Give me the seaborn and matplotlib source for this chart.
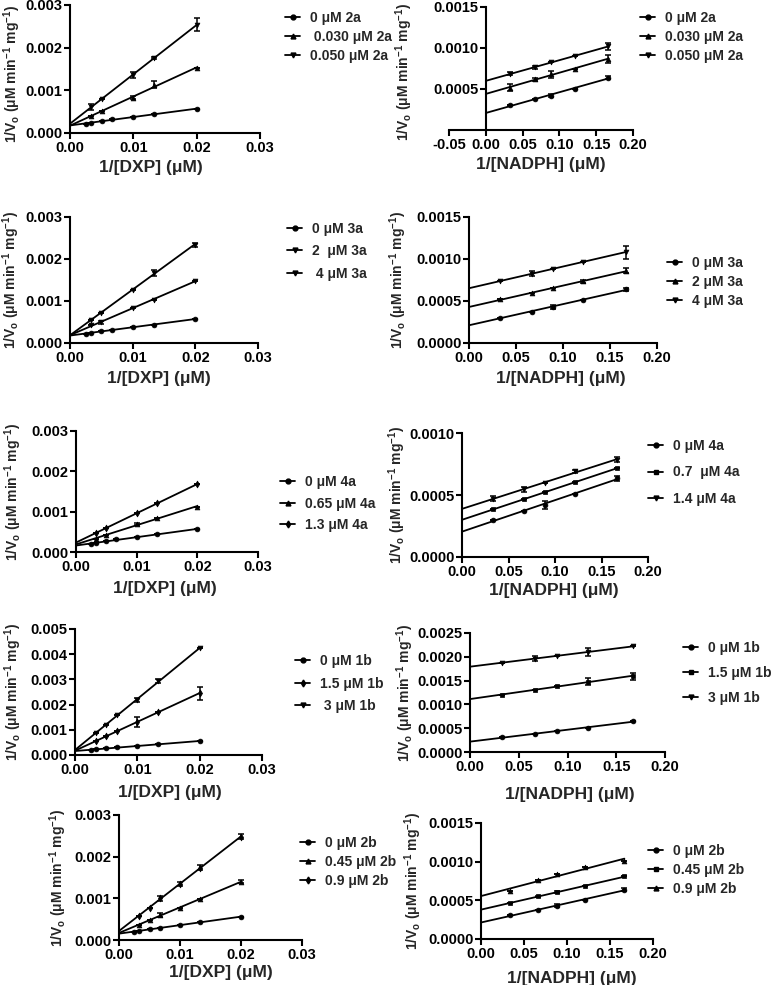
import numpy as np
import pandas as pd
import matplotlib
matplotlib.use("Agg")
import matplotlib.pyplot as plt
import seaborn as sns
from matplotlib.lines import Line2D
from matplotlib.ticker import FormatStrFormatter

# ---------------- data ----------------
DXP_X7 = [0.0025, 0.00333, 0.005, 0.00667, 0.01, 0.01333, 0.02]
DXP_X5 = [0.00333, 0.005, 0.01, 0.01333, 0.02]
DXP_X6 = [0.00333, 0.005, 0.00667, 0.01, 0.01333, 0.02]
NADPH_X = [0.0333, 0.0667, 0.0889, 0.1212, 0.1667]

# Panel 1: 2a vs DXP
P1_LABELS = ["0 μM 2a", " 0.030 μM 2a", "0.050 μM 2a"]
P1_Y0 = [0.00022, 0.00024, 0.00028, 0.00032, 0.00037, 0.00044, 0.00057]
P1_Y1 = [0.00039, 0.00052, 0.00083, 0.00113, 0.00152]
P1_Y2 = [0.00061, 0.00080, 0.00136, 0.00176, 0.00254]
P1_E0 = [0, 0, 0, 0, 0, 0, 0]
P1_E1 = [0, 0, 0.00003, 0.00008, 0]
P1_E2 = [0.00006, 0, 0.00006, 0.00003, 0.00015]

# Panel 2: 2a vs NADPH
P2_LABELS = ["0 μM 2a", "0.030 μM 2a", "0.050 μM 2a"]
P2_Y0 = [0.000302, 0.000376, 0.00042, 0.000506, 0.00064]
P2_Y1 = [0.000518, 0.00062, 0.000678, 0.000747, 0.00087]
P2_Y2 = [0.000686, 0.000763, 0.000824, 0.000906, 0.00102]
P2_E0 = [0, 0, 0.00002, 0, 0.00002]
P2_E1 = [0.00004, 0.00002, 0.00004, 0, 0.00005]
P2_E2 = [0.00002, 0.00002, 0, 0, 0.00004]

# Panel 3: 3a vs DXP
P3_LABELS = ["0 μM 3a", "2  μM 3a", " 4 μM 3a"]
P3_Y0 = [0.00022, 0.00024, 0.00028, 0.00032, 0.00037, 0.00044, 0.00057]
P3_Y1 = [0.00042, 0.00049, 0.00083, 0.00103, 0.00148]
P3_Y2 = [0.00054, 0.00072, 0.00127, 0.00167, 0.00234]
P3_E0 = [0, 0, 0, 0, 0, 0, 0]
P3_E1 = [0, 0.00003, 0, 0, 0]
P3_E2 = [0, 0, 0, 0.00007, 0.00005]

# Panel 4: 3a vs NADPH
P4_LABELS = ["0 μM 3a", "2 μM 3a", "4 μM 3a"]
P4_Y0 = [0.000303, 0.000375, 0.00043, 0.00051, 0.000638]
P4_Y1 = [0.000522, 0.00059, 0.000654, 0.000734, 0.000858]
P4_Y2 = [0.000738, 0.000822, 0.000882, 0.00097, 0.00108]
P4_E0 = [0, 0, 0.00002, 0, 0.00002]
P4_E1 = [0, 0, 0, 0.00002, 0.00003]
P4_E2 = [0, 0.00003, 0, 0, 0.00008]

# Panel 5: 4a vs DXP
P5_LABELS = ["0 μM 4a", "0.65 μM 4a", "1.3 μM 4a"]
P5_Y0 = [0.00020, 0.00022, 0.00027, 0.00031, 0.00037, 0.00045, 0.00056]
P5_Y1 = [0.00033, 0.00042, 0.00069, 0.00084, 0.00112]
P5_Y2 = [0.00047, 0.00060, 0.00096, 0.00121, 0.00168]
P5_E0 = [0, 0, 0, 0, 0, 0, 0]
P5_E1 = [0, 0, 0.00003, 0, 0]
P5_E2 = [0, 0, 0, 0, 0]

# Panel 6: 4a vs NADPH
P6_LABELS = ["0 μM 4a", "0.7  μM 4a", "1.4 μM 4a"]
P6_Y0 = [0.000297, 0.000373, 0.00042, 0.000508, 0.000635]
P6_Y1 = [0.000384, 0.000465, 0.000522, 0.000603, 0.000716]
P6_Y2 = [0.000468, 0.000546, 0.00060, 0.00069, 0.000784]
P6_E0 = [0, 0, 0.00003, 0, 0.00002]
P6_E1 = [0, 0, 0, 0, 0]
P6_E2 = [0.00002, 0.00002, 0, 0.00001, 0.00002]

# Panel 7: 1b vs DXP
P7_LABELS = ["0 μM 1b", "1.5 μM 1b", " 3 μM 1b"]
P7_Y0 = [0.00020, 0.00022, 0.00026, 0.00030, 0.00036, 0.00043, 0.00055]
P7_Y1 = [0.00054, 0.00074, 0.00095, 0.00131, 0.00171, 0.00245]
P7_Y2 = [0.00086, 0.00121, 0.00158, 0.00219, 0.00292, 0.00424]
P7_E0 = [0, 0, 0, 0, 0, 0, 0]
P7_E1 = [0, 0, 0, 0.00018, 0, 0.00025]
P7_E2 = [0, 0, 0, 0.00008, 0.00008, 0]

# Panel 8: 1b vs NADPH
P8_LABELS = ["0 μM 1b", "1.5 μM 1b", "3 μM 1b"]
P8_Y0 = [0.000308, 0.000385, 0.000434, 0.000511, 0.000644]
P8_Y1 = [0.00120, 0.00131, 0.00138, 0.00148, 0.00159]
P8_Y2 = [0.00188, 0.00196, 0.00202, 0.00210, 0.00222]
P8_E0 = [0, 0, 0, 0, 0]
P8_E1 = [0, 0, 0, 0.00008, 0.00007]
P8_E2 = [0, 0.00005, 0, 0.00009, 0]

# Panel 9: 2b vs DXP
P9_LABELS = ["0 μM 2b", "0.45 μM 2b", "0.9 μM 2b"]
P9_Y0 = [0.00020, 0.000224, 0.000256, 0.00029, 0.00035, 0.00043, 0.00056]
P9_Y1 = [0.00036, 0.00048, 0.00060, 0.00078, 0.00098, 0.00140]
P9_Y2 = [0.00058, 0.00078, 0.00100, 0.00134, 0.00174, 0.00248]
P9_E0 = [0, 0, 0, 0, 0, 0, 0]
P9_E1 = [0, 0, 0.00005, 0, 0, 0.00004]
P9_E2 = [0, 0, 0.00006, 0.00005, 0.00006, 0.00006]

# Panel 10: 2b vs NADPH
P10_LABELS = ["0 μM 2b", "0.45 μM 2b", "0.9 μM 2b"]
P10_Y0 = [0.000306, 0.000375, 0.00043, 0.000509, 0.000638]
P10_Y1 = [0.000466, 0.00055, 0.00061, 0.00068, 0.00081]
P10_Y2 = [0.00062, 0.00076, 0.00084, 0.00093, 0.00101]
P10_E0 = [0, 0, 0.00002, 0, 0.00002]
P10_E1 = [0, 0.00001, 0.00001, 0, 0]
P10_E2 = [0, 0, 0, 0, 0]

# ---------------- style ----------------
sns.set_theme(style="ticks")
plt.rcParams.update({
    "font.family": ["Liberation Sans", "DejaVu Sans"],
    "font.weight": "bold",
    "axes.labelweight": "bold",
    "mathtext.fontset": "custom",
    "mathtext.rm": "Liberation Sans:bold",
    "mathtext.it": "Liberation Sans:bold",
    "mathtext.bf": "Liberation Sans:bold",
    "mathtext.default": "rm",
    "axes.linewidth": 1.5,
    "xtick.major.width": 1.5,
    "ytick.major.width": 1.5,
    "xtick.major.size": 4,
    "ytick.major.size": 4,
    "xtick.major.pad": 2,
    "ytick.major.pad": 1.5,
    "xtick.color": "black",
    "ytick.color": "black",
    "axes.edgecolor": "black",
})

W, H = 777, 985
fig = plt.figure(figsize=(W / 100, H / 100), dpi=100)

YLABEL = "1/V$_{o}$ (μM min$^{-1}$ mg$^{-1}$)"
DXP_LABEL = "1/[DXP] (μM)"
NADPH_LABEL = "1/[NADPH] (μM)"

panels = [
    dict(xs=[DXP_X7, DXP_X5, DXP_X5], ys=[P1_Y0, P1_Y1, P1_Y2], es=[P1_E0, P1_E1, P1_E2], labels=P1_LABELS,
         markers=["o", "^", "v"], rect=(70, 260, 5, 133), kind="dxp", ymax=0.003, ystep=0.001, yfmt="%.3f",
         xlab=(151, 168), ylab=(23, 0.46), leg=(285, 17), ls=0.37),
    dict(xs=[NADPH_X] * 3, ys=[P2_Y0, P2_Y1, P2_Y2], es=[P2_E0, P2_E1, P2_E2], labels=P2_LABELS,
         markers=["o", "^", "v"], rect=(449, 633, 7, 130), kind="nadph_neg", ymax=0.0015, ystep=0.0005, yfmt="%.4f",
         xlab=(541, 165), ylab=(415, 0.47), leg=(640, 17), ls=0.37),
    dict(xs=[DXP_X7, DXP_X5, DXP_X5], ys=[P3_Y0, P3_Y1, P3_Y2], es=[P3_E0, P3_E1, P3_E2], labels=P3_LABELS,
         markers=["o", "v", "v"], rect=(70, 258, 217, 343), kind="dxp", ymax=0.003, ystep=0.001, yfmt="%.3f",
         xlab=(159, 378), ylab=(22, 0.5), leg=(287, 228), ls=0.6),
    dict(xs=[NADPH_X] * 3, ys=[P4_Y0, P4_Y1, P4_Y2], es=[P4_E0, P4_E1, P4_E2], labels=P4_LABELS,
         markers=["o", "^", "v"], rect=(469, 657, 217, 343), kind="nadph", ymax=0.0015, ystep=0.0005, yfmt="%.4f",
         xlab=(561, 378), ylab=(409, 0.5), leg=(667, 262), ls=0.35),
    dict(xs=[DXP_X7, DXP_X5, DXP_X5], ys=[P5_Y0, P5_Y1, P5_Y2], es=[P5_E0, P5_E1, P5_E2], labels=P5_LABELS,
         markers=["o", "^", "d"], rect=(76, 258, 431, 552), kind="dxp", ymax=0.003, ystep=0.001, yfmt="%.3f",
         xlab=(165, 588), ylab=(24, 0.5), leg=(280, 481), ls=0.55),
    dict(xs=[NADPH_X] * 3, ys=[P6_Y0, P6_Y1, P6_Y2], es=[P6_E0, P6_E1, P6_E2], labels=P6_LABELS,
         markers=["o", "s", "v"], rect=(462, 648, 433, 557), kind="nadph", ymax=0.0010, ystep=0.0005, yfmt="%.4f",
         xlab=(554, 591), ylab=(408, 0.5), leg=(648, 445), ls=0.9),
    dict(xs=[DXP_X7, DXP_X6, DXP_X6], ys=[P7_Y0, P7_Y1, P7_Y2], es=[P7_E0, P7_E1, P7_E2], labels=P7_LABELS,
         markers=["o", "d", "v"], rect=(75, 262, 629, 755), kind="dxp", ymax=0.005, ystep=0.001, yfmt="%.3f",
         xlab=(170, 793), ylab=(24, 0.5), leg=(295, 660), ls=0.62),
    dict(xs=[NADPH_X] * 3, ys=[P8_Y0, P8_Y1, P8_Y2], es=[P8_E0, P8_E1, P8_E2], labels=P8_LABELS,
         markers=["o", "s", "v"], rect=(470, 665, 633, 752), kind="nadph", ymax=0.0025, ystep=0.0005, yfmt="%.4f",
         xlab=(570, 795), ylab=(416, 0.5), leg=(683, 647), ls=0.8),
    dict(xs=[DXP_X7, DXP_X6, DXP_X6], ys=[P9_Y0, P9_Y1, P9_Y2], es=[P9_E0, P9_E1, P9_E2], labels=P9_LABELS,
         markers=["o", "^", "d"], rect=(119, 302, 815, 940), kind="dxp", ymax=0.003, ystep=0.001, yfmt="%.3f",
         xlab=(221, 972), ylab=(69, 0.5), leg=(300, 842), ls=0.37),
    dict(xs=[NADPH_X] * 3, ys=[P10_Y0, P10_Y1, P10_Y2], es=[P10_E0, P10_E1, P10_E2], labels=P10_LABELS,
         markers=["o", "s", "^"], rect=(481, 653, 823, 939), kind="nadph", ymax=0.0015, ystep=0.0005, yfmt="%.4f",
         xlab=(572, 979), ylab=(424, 0.5), leg=(648, 850), ls=0.37),
]

for p in panels:
    l, r, t, b = p["rect"]
    ax = fig.add_axes([l / W, 1 - b / H, (r - l) / W, (b - t) / H])
    handles = []
    for x, y, e, m in zip(p["xs"], p["ys"], p["es"], p["markers"]):
        x = np.asarray(x, float)
        y = np.asarray(y, float)
        slope, icpt = np.polyfit(x, y, 1)
        xf = np.array([0.0, x.max()])
        fit = pd.DataFrame({"x": xf, "y": icpt + slope * xf})
        sns.lineplot(data=fit, x="x", y="y", ax=ax, color="black", lw=1.3, zorder=2)
        ax.errorbar(x, y, yerr=np.asarray(e, float), fmt="none", ecolor="black",
                    elinewidth=1.1, capsize=2.2, capthick=1.1, zorder=3)
        sns.scatterplot(x=x, y=y, ax=ax, marker=m, s=12, color="black",
                        edgecolor="black", linewidth=0.5, zorder=4)
        handles.append(Line2D([0], [0], color="black", lw=1.3, marker=m, ms=3.5))

    ax.set_ylim(0, p["ymax"])
    yt = np.arange(0, p["ymax"] + p["ystep"] / 2, p["ystep"])
    if p["kind"] == "dxp":
        ax.set_xlim(0, 0.03)
        ax.set_xticks([0, 0.01, 0.02, 0.03])
        xlabel = DXP_LABEL
    elif p["kind"] == "nadph_neg":
        ax.set_xlim(-0.05, 0.20)
        ax.set_xticks([-0.05, 0, 0.05, 0.10, 0.15, 0.20])
        ax.spines["left"].set_position(("data", 0))
        yt = yt[1:]
        xlabel = NADPH_LABEL
    else:
        ax.set_xlim(0, 0.20)
        ax.set_xticks([0, 0.05, 0.10, 0.15, 0.20])
        xlabel = NADPH_LABEL
    ax.set_yticks(yt)
    ax.xaxis.set_major_formatter(FormatStrFormatter("%.2f"))
    ax.yaxis.set_major_formatter(FormatStrFormatter(p["yfmt"]))
    ax.tick_params(labelsize=10.5)
    for lab in ax.get_xticklabels() + ax.get_yticklabels():
        lab.set_fontweight("bold")
    sns.despine(ax=ax)
    ax.spines["left"].set_linewidth(1.5)
    ax.spines["bottom"].set_linewidth(1.5)

    ax.set_xlabel(xlabel, fontsize=12.5, fontweight="bold")
    xc, yc = p["xlab"]
    ax.xaxis.set_label_coords((xc - l) / (r - l), (b - yc) / (b - t), transform=ax.transAxes)
    ax.xaxis.label.set_va("center")

    ax.set_ylabel(YLABEL, fontsize=10, fontweight="bold")
    yr, yf = p["ylab"]
    ax.yaxis.set_label_coords((yr - l) / (r - l), yf)

    lx, ly = p["leg"]
    ax.legend(handles, p["labels"], loc="upper left",
              bbox_to_anchor=(lx / W, 1 - (ly - 6) / H), bbox_transform=fig.transFigure,
              frameon=False, handlelength=1.1, handletextpad=0.7,
              borderpad=0, borderaxespad=0, labelspacing=p["ls"],
              prop={"weight": "bold", "size": 10})

fig.savefig("out.png", dpi=100, facecolor="white")
